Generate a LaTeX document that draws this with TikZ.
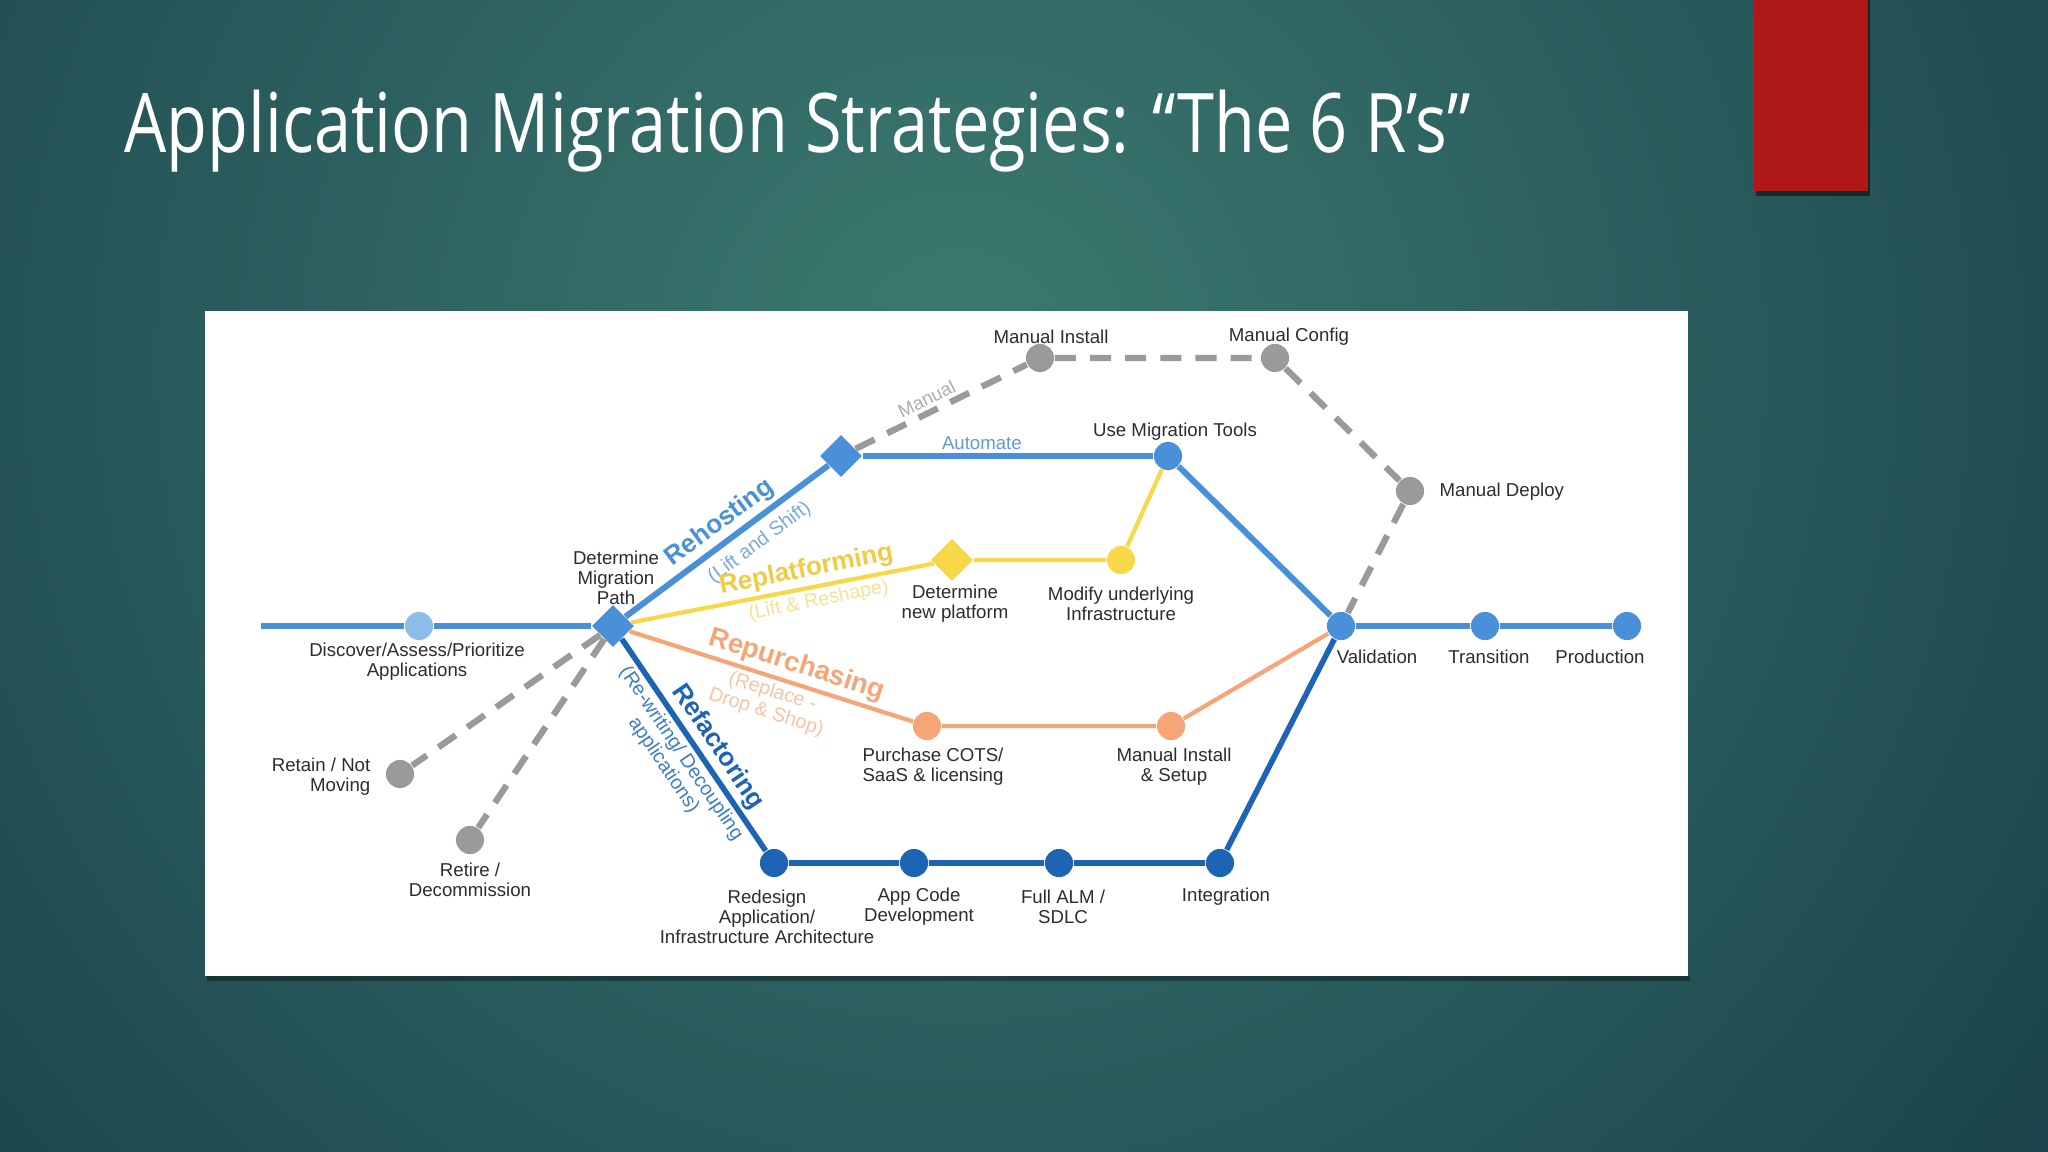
\documentclass[tikz,border=0pt]{standalone}
\usepackage{fontspec}
\setmainfont{Liberation Sans}
\newfontfamily\titlefont[FakeStretch=0.81]{Open Sans}
\usetikzlibrary{shapes.geometric}
\definecolor{bgin}{RGB}{60,122,112}
\definecolor{bgout}{RGB}{15,48,64}
\definecolor{slidered}{RGB}{176,24,24}
\definecolor{rblue}{RGB}{74,144,217}
\definecolor{rdark}{RGB}{30,100,180}
\definecolor{rlight}{RGB}{141,190,234}
\definecolor{ryellow}{RGB}{247,216,72}
\definecolor{rorange}{RGB}{246,166,118}
\definecolor{rgrey}{RGB}{154,154,154}
\definecolor{txt}{RGB}{45,45,45}

\begin{document}
\begin{tikzpicture}[x=0.01cm, y=-0.01cm,
  stn/.style={circle, inner sep=0pt, minimum size=8pt},
  jct/.style={diamond, aspect=1, inner sep=0pt, minimum size=12pt},
  lbl/.style={align=center, text=txt, inner sep=0pt, font=\fontsize{5.3}{5.6}\selectfont},
  arm/.style={line width=1.7pt},
  thin arm/.style={line width=1.2pt},
  greydash/.style={rgrey, line width=1.8pt, dash pattern=on 6pt off 4pt},
  rname/.style={sloped, inner sep=1pt, font=\bfseries\fontsize{7.4}{8}\selectfont},
  rsub/.style={sloped, align=center, inner sep=1pt, font=\fontsize{5.6}{6}\selectfont}]
\useasboundingbox (0,0) rectangle (2048,1152);
\begin{scope}
\clip (0,0) rectangle (2048,1152);
\shade[inner color=bgin, outer color=bgout] (960,360) circle (18cm);
\end{scope}
\fill[black, opacity=0.5] (1756,0) rectangle (1870,196);
\fill[slidered] (1754,0) rectangle (1868,191);
\node[anchor=base west, inner sep=0pt, text=white, font=\titlefont\fontsize{23.4}{28}\selectfont] (title) at (124,153) {Application Migration Strategies: “The 6 R’s”};
\fill[black, opacity=0.35] (207,976) rectangle (1690,981);
\fill[white] (205,311) rectangle (1688,976);

\node[stn, fill=rlight] (disc) at (419,626) {};
\node[jct, fill=rblue] (path) at (613,626) {};
\node[jct, fill=rblue] (rehost) at (841,456) {};
\node[stn, fill=rgrey] (minst) at (1040,358) {};
\node[stn, fill=rgrey] (mconf) at (1275,358) {};
\node[stn, fill=rgrey] (mdepl) at (1410,491) {};
\node[stn, fill=rblue] (tools) at (1168,456) {};
\node[jct, fill=ryellow] (newplat) at (952,560) {};
\node[stn, fill=ryellow] (modify) at (1121,560) {};
\node[stn, fill=rblue] (valid) at (1341,626) {};
\node[stn, fill=rblue] (trans) at (1485,626) {};
\node[stn, fill=rblue] (prod) at (1627,626) {};
\node[stn, fill=rorange] (cots) at (927,726) {};
\node[stn, fill=rorange] (setup) at (1171,726) {};
\node[stn, fill=rdark] (redesign) at (774,863) {};
\node[stn, fill=rdark] (appcode) at (914,863) {};
\node[stn, fill=rdark] (alm) at (1059,863) {};
\node[stn, fill=rdark] (integ) at (1220,863) {};
\node[stn, fill=rgrey] (retain) at (400,774) {};
\node[stn, fill=rgrey] (retire) at (470,840) {};
\coordinate (start) at (261,626);

\draw[arm, rblue] (start) -- (disc) -- (path);
\draw[arm, rblue] (path) -- (rehost)
  node[rname, pos=.52, above, text=rblue] {Rehosting}
  node[rsub, pos=.6, below=1.5pt, text={rgb,255:red,120;green,170;blue,222}] {(Lift and Shift)};
\draw[arm, rblue] (rehost) -- (tools) node[pos=.41, above, inner sep=1pt, font=\fontsize{5.3}{6}\selectfont, text={rgb,255:red,95;green,155;blue,215}] {Automate};
\draw[arm, rblue] (tools) -- (valid) -- (trans) -- (prod);
\draw[greydash] (rehost) -- node[pos=.45, above, sloped, inner sep=1pt, font=\fontsize{5.3}{6}\selectfont, text=rgrey!80] {Manual} (minst) -- (mconf) -- (mdepl) -- (valid);
\draw[thin arm, ryellow] (path) -- (newplat)
  node[rname, pos=.59, above, text={rgb,255:red,240;green,204;blue,70}] {Replatforming}
  node[rsub, pos=.61, below, text={rgb,255:red,245;green,226;blue,150}] {(Lift \& Reshape)};
\draw[thin arm, ryellow] (newplat) -- (modify) -- (tools);
\draw[thin arm, rorange] (path) -- (cots)
  node[rname, pos=.57, above, font=\bfseries\fontsize{7.8}{8}\selectfont, text=rorange] {Repurchasing}
  node[rsub, pos=.52, below, text={rgb,255:red,246;green,196;blue,166}] {(Replace -\\Drop \& Shop)};
\draw[thin arm, rorange] (cots) -- (setup) -- (valid);
\draw[arm, rdark, line width=1.6pt] (path) -- (redesign)
  node[rname, pos=.56, above, text=rdark] {Refactoring}
  node[rsub, pos=.5, below, text={rgb,255:red,60;green,125;blue,200}] {(Re-writing/ Decoupling\\applications)};
\draw[arm, rdark, line width=1.6pt] (redesign) -- (appcode) -- (alm) -- (integ) -- (valid);
\draw[greydash] (path) -- (retain);
\draw[greydash] (path) -- (retire);

\node[lbl] (discl) at (417,662) {Discover/Assess/Prioritize\\Applications};
\node[lbl] (pathl) at (616,578) {Determine\\Migration\\Path};
\node[lbl] (minstl) at (1051,337) {Manual Install};
\node[lbl] (mconfl) at (1289,337) {Manual Config};
\node[lbl, anchor=west] (mdepll) at (1439,492) {Manual Deploy};
\node[lbl] (toolsl) at (1175,432) {Use Migration Tools};
\node[lbl] (newplatl) at (955,604) {Determine\\new platform};
\node[lbl] (modifyl) at (1121,604) {Modify underlying\\Infrastructure};
\node[lbl] (validl) at (1377,657) {Validation};
\node[lbl] (transl) at (1489,657) {Transition};
\node[lbl] (prodl) at (1600,657) {Production};
\node[lbl] (cotsl) at (933,767) {Purchase COTS/\\SaaS \& licensing};
\node[lbl] (setupl) at (1174,767) {Manual Install\\\& Setup};
\node[lbl] (redesignl) at (767,917) {Redesign\\Application/\\Infrastructure Architecture};
\node[lbl] (appcodel) at (919,907) {App Code\\Development};
\node[lbl] (alml) at (1063,907) {Full ALM /\\SDLC};
\node[lbl] (integl) at (1226,897) {Integration};
\node[lbl, anchor=east, align=right] (retainl) at (371,777) {Retain / Not\\Moving};
\node[lbl] (retirel) at (470,880) {Retire /\\Decommission};
\end{tikzpicture}
\end{document}
